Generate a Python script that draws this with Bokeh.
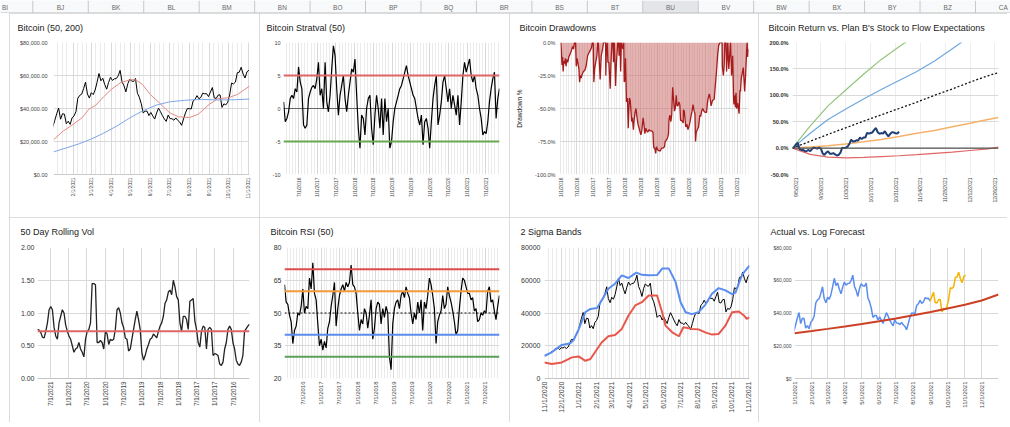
import math
import pandas as pd
from bokeh.plotting import figure
from bokeh.models import (Range1d, FixedTicker, NumeralTickFormatter, DatetimeTickFormatter,
                          Span, Grid, DaysTicker, MonthsTicker, Spacer)
from bokeh.layouts import row, column
from bokeh.embed import file_html
from bokeh.resources import INLINE
from bokeh.core.properties import value

FONT = "Liberation Sans"

# ------------------------------------------------------------------ data
sheet_columns = ["BI", "BJ", "BK", "BL", "BM", "BN", "BO", "BP", "BQ", "BR",
                 "BS", "BT", "BU", "BV", "BW", "BX", "BY", "BZ", "CA"]
selected_column = "BU"

# BTC closing price (thousand USD), every 3 days from 2020-11-01
btc_start = "2020-11-01"
btc_step_days = 3
btc_price_k = [
    13.74, 14.15, 14.82, 15.29, 16.3, 16.72, 17.8, 18.4, 18.7, 17.7,
    18.8, 18.65, 19.2, 18.3, 19.15, 21.3, 23.9, 23.8, 24.7, 27.1, 29.0,
    32.8, 36.8, 40.3, 33.5, 36.8, 36.6, 30.8, 32.3, 30.4, 34.3,
    35.5, 38.0, 46.2, 48.0, 48.7, 52.0, 56.0, 48.8, 46.3,
    49.6, 48.4, 51.2, 55.9, 61.2, 56.8, 58.3, 54.5, 51.7, 55.8, 58.9,
    57.0, 58.0, 58.1, 59.8, 63.1, 56.2, 53.8, 50.1, 55.0, 57.8,
    56.6, 56.4, 58.2, 49.2, 46.8, 42.9, 37.3, 38.4, 38.4, 35.7,
    37.6, 35.5, 33.6, 37.3, 40.2, 38.1, 35.7, 33.7, 32.2, 36.0,
    33.9, 33.8, 32.9, 34.3, 32.8, 31.8, 29.8, 33.6, 37.3, 40.0,
    39.9, 39.7, 44.6, 45.6, 47.8, 45.9, 46.7, 49.3, 48.9, 49.0, 47.2,
    50.0, 52.7, 46.4, 46.1, 48.1, 48.3, 40.7, 42.8, 42.2, 43.8,
    48.2, 55.4, 54.9, 56.0, 61.7, 62.0, 65.0, 60.9, 58.5, 62.2,
    63.2,
]

ma50_k = [("2021-01-01", 21.0), ("2021-01-15", 26.0), ("2021-02-01", 30.5), ("2021-02-15", 34.5),
          ("2021-02-25", 39.5), ("2021-03-08", 42.0), ("2021-03-20", 47.0), ("2021-04-01", 51.5),
          ("2021-04-15", 55.5), ("2021-05-01", 57.5), ("2021-05-10", 57.3), ("2021-05-20", 54.5),
          ("2021-06-01", 48.5), ("2021-06-15", 43.5), ("2021-07-01", 37.5), ("2021-07-15", 35.0),
          ("2021-08-01", 34.5), ("2021-08-15", 36.5), ("2021-09-01", 42.5), ("2021-09-15", 46.0),
          ("2021-10-01", 46.5), ("2021-10-15", 48.5), ("2021-11-03", 53.5)]

ma200_k = [("2021-01-01", 13.7), ("2021-01-20", 16.0), ("2021-02-10", 18.6), ("2021-03-01", 21.5),
           ("2021-03-20", 25.0), ("2021-04-10", 29.4), ("2021-05-01", 34.5), ("2021-05-20", 38.5),
           ("2021-06-10", 42.0), ("2021-07-01", 44.0), ("2021-07-25", 45.0), ("2021-08-20", 45.5),
           ("2021-09-15", 45.2), ("2021-10-10", 45.3), ("2021-11-03", 45.7)]

upper_band_k = [("2020-11-01", 13.9), ("2020-11-14", 16.0), ("2020-12-02", 20.5), ("2020-12-17", 21.5),
                ("2020-12-23", 23.5), ("2021-01-01", 30.0), ("2021-01-13", 40.5), ("2021-01-22", 42.5),
                ("2021-02-03", 43.0), ("2021-02-11", 47.7), ("2021-02-23", 54.8), ("2021-03-07", 57.9),
                ("2021-03-19", 63.0), ("2021-03-31", 61.4), ("2021-04-14", 64.7), ("2021-04-24", 63.3),
                ("2021-05-06", 63.0), ("2021-05-21", 63.2), ("2021-05-30", 67.1), ("2021-06-11", 67.1),
                ("2021-06-23", 59.0), ("2021-07-02", 46.6), ("2021-07-11", 40.5), ("2021-07-22", 39.3),
                ("2021-08-03", 40.5), ("2021-08-15", 45.0), ("2021-08-27", 51.8), ("2021-09-08", 55.2),
                ("2021-09-20", 53.8), ("2021-10-02", 51.5), ("2021-10-08", 52.5), ("2021-10-14", 58.0),
                ("2021-10-20", 63.5), ("2021-10-26", 66.0), ("2021-11-02", 69.0)]

lower_band_k = [("2020-11-01", 9.8), ("2020-11-14", 8.8), ("2020-12-02", 9.8), ("2020-12-20", 12.9),
                ("2021-01-01", 13.5), ("2021-01-13", 10.8), ("2021-01-22", 11.9), ("2021-02-03", 18.0),
                ("2021-02-11", 22.0), ("2021-02-23", 25.8), ("2021-03-07", 26.6), ("2021-03-19", 30.3),
                ("2021-03-31", 38.5), ("2021-04-12", 44.6), ("2021-04-24", 46.6), ("2021-05-06", 50.7),
                ("2021-05-21", 50.7), ("2021-05-30", 40.5), ("2021-06-05", 32.3), ("2021-06-17", 28.2),
                ("2021-06-29", 25.8), ("2021-07-07", 31.3), ("2021-07-22", 30.3), ("2021-08-03", 30.0),
                ("2021-08-15", 28.2), ("2021-08-27", 26.8), ("2021-09-08", 27.2), ("2021-09-20", 32.3),
                ("2021-10-02", 40.5), ("2021-10-14", 40.9), ("2021-10-23", 38.5), ("2021-10-28", 36.4),
                ("2021-11-02", 37.4)]

log_forecast_k = [("2021-01-01", 27.7), ("2021-02-01", 29.0), ("2021-03-01", 30.3), ("2021-04-01", 31.8),
                  ("2021-05-01", 33.3), ("2021-06-01", 35.0), ("2021-07-01", 36.7), ("2021-08-01", 38.6),
                  ("2021-09-01", 40.6), ("2021-10-01", 42.7), ("2021-11-01", 45.0), ("2021-12-01", 47.6),
                  ("2021-12-31", 51.3)]
forecast_split = "2021-09-01"

# Stratval (50), every ~16.2 days from 2016-02-06
stratval_start = "2016-02-06"
stratval_step_days = 16.21
stratval = [
    1, -2, -1.5, -0.5, 1.5, 2, 1.5, 3, 2.5, 6.3,
    4, 3, -2.5, -3, -2.5, 1.5, 2.5, 3.2, 3.5, 3,
    4.5, 7, 2, 3, 0, 7, 1, -0.5, 2, 6,
    9.5, 8, 3, -1, 2, 3.5, 5, 1.5, -0.5, 2,
    4, 6, 5.5, 7.5, 2, -3, -6, -1, -1.5, -4,
    0, 1.5, 2, -3, -5.5, -1, 2, 0, -3, 1.5,
    -4, 1.5, -2, 0, -6, -5, -2, 0, 1, 2,
    3, 3.5, 4.5, 5.5, 6.5, 5, 4, 3, 2, 1.5,
    0, -1.5, -2.5, -1, -5.5, -2, -1.5, -3, -6, -2,
    1.5, 3.5, 5, -2.5, -1, 1, 4, 5, 3, 1,
    3, 0, 2, 0.5, -1, 2, -2.5, 1, 5, 7,
    5.5, 6.5, 7.5, 5, 4, 5, 3, 2, 0, -1.5,
    -4, -3.5, -3.8, -2, 1, 3, 4.5, 5.5, -1.5, 1.5,
    3,
]
stratval_upper = 5
stratval_lower = -5

# Drawdown from running high, percent
drawdown_pct = [
    ("2016-01-01", 0), ("2016-01-08", -6), ("2016-01-15", -17), ("2016-01-22", -11), ("2016-01-28", -22),
    ("2016-02-05", -14), ("2016-02-15", -16), ("2016-02-22", -12), ("2016-03-01", -18), ("2016-03-10", -13),
    ("2016-03-20", -15), ("2016-04-01", -11), ("2016-04-15", -9), ("2016-05-01", -6), ("2016-05-15", -3),
    ("2016-05-25", -5), ("2016-06-05", 0), ("2016-06-17", 0), ("2016-06-25", -18), ("2016-07-05", -12),
    ("2016-07-15", -16), ("2016-07-25", -20), ("2016-08-02", -30), ("2016-08-10", -25), ("2016-08-20", -27),
    ("2016-09-01", -24), ("2016-09-15", -22), ("2016-10-01", -21), ("2016-10-15", -18), ("2016-11-01", -10),
    ("2016-11-15", -8), ("2016-12-01", -6), ("2016-12-15", -4), ("2016-12-25", 0), ("2017-01-04", 0),
    ("2017-01-11", -30), ("2017-01-20", -20), ("2017-02-01", -15), ("2017-02-15", -10), ("2017-02-25", 0),
    ("2017-03-03", 0), ("2017-03-18", -20), ("2017-03-24", -28), ("2017-04-05", -10), ("2017-04-20", -5),
    ("2017-05-01", 0), ("2017-05-25", 0), ("2017-05-27", -25), ("2017-06-01", -10), ("2017-06-12", 0),
    ("2017-06-20", -15), ("2017-07-01", -15), ("2017-07-16", -35), ("2017-07-25", -15), ("2017-08-05", 0),
    ("2017-08-17", 0), ("2017-08-22", -15), ("2017-09-01", 0), ("2017-09-15", -33), ("2017-09-25", -15),
    ("2017-10-10", 0), ("2017-10-20", 0), ("2017-10-25", -10), ("2017-11-05", 0), ("2017-11-12", -22),
    ("2017-11-20", 0), ("2017-12-08", -5), ("2017-12-17", 0), ("2017-12-22", -30), ("2017-12-31", -28),
    ("2018-01-06", -12), ("2018-01-17", -45), ("2018-01-28", -42), ("2018-02-06", -65), ("2018-02-15", -48),
    ("2018-02-20", -42), ("2018-03-01", -44), ("2018-03-10", -53), ("2018-03-18", -60), ("2018-03-25", -57),
    ("2018-04-06", -66), ("2018-04-15", -58), ("2018-04-25", -53), ("2018-05-05", -50), ("2018-05-15", -56),
    ("2018-05-28", -62), ("2018-06-10", -65), ("2018-06-29", -70), ("2018-07-10", -67), ("2018-07-25", -57),
    ("2018-08-05", -63), ("2018-08-14", -69), ("2018-08-25", -65), ("2018-09-05", -67), ("2018-09-15", -68),
    ("2018-10-01", -66), ("2018-10-15", -67), ("2018-11-01", -67), ("2018-11-14", -68), ("2018-11-20", -77),
    ("2018-11-25", -80), ("2018-12-05", -80), ("2018-12-15", -84), ("2018-12-24", -79), ("2019-01-05", -81),
    ("2019-01-20", -82), ("2019-02-07", -82), ("2019-02-20", -80), ("2019-03-10", -80), ("2019-03-25", -79),
    ("2019-04-02", -75), ("2019-04-15", -74), ("2019-04-30", -72), ("2019-05-10", -69), ("2019-05-15", -59),
    ("2019-05-25", -55), ("2019-06-05", -60), ("2019-06-15", -55), ("2019-06-26", -34), ("2019-07-05", -42),
    ("2019-07-16", -52), ("2019-07-25", -50), ("2019-08-06", -40), ("2019-08-15", -48), ("2019-08-25", -48),
    ("2019-09-05", -45), ("2019-09-15", -47), ("2019-09-24", -59), ("2019-10-05", -59), ("2019-10-24", -61),
    ("2019-10-26", -51), ("2019-11-05", -52), ("2019-11-22", -64), ("2019-12-05", -62), ("2019-12-17", -66),
    ("2019-12-31", -63), ("2020-01-10", -60), ("2020-01-20", -56), ("2020-02-01", -52), ("2020-02-13", -47),
    ("2020-02-25", -52), ("2020-03-05", -54), ("2020-03-12", -75), ("2020-03-20", -68), ("2020-04-01", -66),
    ("2020-04-15", -64), ("2020-04-30", -55), ("2020-05-10", -56), ("2020-05-20", -52), ("2020-06-01", -50),
    ("2020-06-15", -52), ("2020-07-01", -53), ("2020-07-15", -53), ("2020-07-28", -44), ("2020-08-10", -40),
    ("2020-08-17", -39), ("2020-09-05", -48), ("2020-09-20", -44), ("2020-10-10", -43), ("2020-10-21", -34),
    ("2020-11-05", -22), ("2020-11-20", -8), ("2020-12-01", -2), ("2020-12-16", 0), ("2020-12-31", 0),
    ("2021-01-08", 0), ("2021-01-11", -18), ("2021-01-22", -25), ("2021-02-01", -17), ("2021-02-08", 0),
    ("2021-02-21", 0), ("2021-02-28", -22), ("2021-03-13", 0), ("2021-03-25", -20), ("2021-04-14", 0),
    ("2021-04-25", -25), ("2021-05-08", -10), ("2021-05-19", -44), ("2021-05-23", -47), ("2021-06-03", -40),
    ("2021-06-08", -49), ("2021-06-15", -38), ("2021-06-22", -50), ("2021-07-05", -46), ("2021-07-20", -54),
    ("2021-07-30", -36), ("2021-08-05", -37), ("2021-08-14", -27), ("2021-08-23", -24), ("2021-09-06", -19),
    ("2021-09-21", -37), ("2021-10-01", -26), ("2021-10-15", -5), ("2021-10-20", 0), ("2021-10-27", -11),
    ("2021-11-03", -5),
]

# Return since 2021-09-03 vs stock-to-flow paths (percent)
return_start = "2021-09-03"
btc_return_pct = [
    0, 2, 7, 10, -2, -3.5, -3, -6, -5.5, -3.5, -6, -1.5, 0.8, 0, -1, 1, -1, -10, -13, -8.5,
    -6, -10.5, -10.7, -9.6, -11.7, -14, -13, -8.4,
    0.8, 0, 0.8, 2.7, 7.7, 16, 12.5, 12.8, 14.8, 14.4, 20, 17, 20, 20, 29, 27.4, 28.7, 29.7,
    34.5, 38, 30, 27, 28.5, 27.4, 32, 26.5, 22.4, 26.8, 30.3, 29.5, 28.2,
    27.6, 31,
]
s2f_days = [0, 10, 20, 30, 40, 50, 60, 70, 80, 90, 100, 110, 116]
s2f_green = [0, 42, 80, 110, 140, 168, 192, 215, 238, 260, 282, 304, 316]
s2f_blue = [0, 28, 54, 74, 93, 111, 128, 145, 165, 188, 212, 236, 250]
s2f_median = [0, 13, 26, 38.5, 51, 63, 75, 87, 100, 112, 125, 137, 143]
s2f_orange = [0, 2, 4.5, 7.8, 12, 16.5, 22, 28, 33.5, 40.5, 47, 54, 58]
s2f_red = [0, -12, -17, -18.4, -17.5, -16, -14.5, -12.5, -10, -7.5, -4.5, -1.5, 2]

# 50 day rolling vol, newest first, every 16.5 days back from 2021-11-04
vol_end = "2021-11-04"
vol_step_days = 16.5
rolling_vol = [
    0.75, 0.74, 0.70, 0.63, 0.62, 0.72, 0.85, 1.05, 1.10, 1.05,
    0.78, 0.65, 0.60, 0.85, 0.95, 1.05, 1.00, 0.82, 0.72, 0.65,
    0.60, 0.50, 0.40, 0.45, 0.47, 0.55, 0.45, 0.40, 0.33, 0.60,
    0.72, 0.75, 0.85, 1.45, 1.45, 1.43, 0.55, 0.55, 0.58, 0.55,
    0.45, 0.72, 0.68, 0.52, 0.60, 0.58, 0.60, 0.75, 1.05, 1.08,
    1.00, 0.85, 0.78, 0.62, 0.60, 0.42, 0.45, 0.60, 0.75, 0.90,
    1.03, 0.90, 0.75, 0.40, 0.28, 0.35, 0.45, 0.52, 0.60, 0.62,
    0.68, 0.65, 0.62, 0.72, 0.80, 0.85, 0.95, 1.15, 1.20, 1.32,
    1.35, 1.28, 1.50, 1.40, 1.25, 1.20, 0.85, 0.72, 0.95, 0.95,
    0.90, 0.75, 1.18, 1.20, 1.22, 0.88, 0.75, 0.55, 0.48, 0.72,
    0.80, 0.78, 0.45, 0.75, 0.78, 0.75, 0.35, 0.38, 0.37, 0.35,
    0.22, 0.20, 0.25, 0.45, 0.55, 0.75, 0.80, 0.75, 0.55, 0.45,
    0.28, 0.22, 0.20, 0.25, 0.35, 0.72, 0.76, 0.80, 0.83,
]
vol_average = 0.72

# RSI (50), every ~16.67 days from 2016-01-01
rsi_start = "2016-01-01"
rsi_step_days = 16.67
rsi = [
    63, 55, 54, 49, 46, 36, 42, 44, 50, 49,
    53, 61, 50, 53, 52, 66, 61, 73, 59, 56,
    45, 35, 38, 33, 37, 34, 43, 46, 53, 58,
    64, 44, 52, 58, 61, 63, 60, 64, 62, 64,
    72, 63, 62, 59, 50, 42, 47, 45, 52, 50,
    43, 49, 56, 38, 43, 52, 55, 54, 45, 52,
    48, 53, 50, 30, 24, 45, 52, 55, 56, 52,
    58, 60, 57, 62, 59, 57, 50, 45, 50, 47,
    55, 50, 56, 42, 55, 52, 58, 66, 63, 58,
    52, 36, 46, 49, 51, 58, 52, 54, 62, 58,
    55, 51, 46, 40, 42, 52, 60, 66, 65, 62,
    59, 59, 56, 57, 51, 52, 46, 47, 50, 49,
    51, 50, 60, 62, 55, 56, 51, 47, 53, 58,
]
rsi_levels = [70, 60, 50, 40, 30]

# tick labels
ticks_2021_m = ["2021-02-01", "2021-03-01", "2021-04-01", "2021-05-01", "2021-06-01",
                "2021-07-01", "2021-08-01", "2021-09-01", "2021-10-01", "2021-11-01"]
ticks_half_years = ["2016-07-01", "2017-01-01", "2017-07-01", "2018-01-01", "2018-07-01", "2019-01-01",
                    "2019-07-01", "2020-01-01", "2020-07-01", "2021-01-01", "2021-07-01"]
ticks_dd = ["2016-01-01"] + ticks_half_years
ticks_s2f = ["2021-09-05", "2021-09-19", "2021-10-03", "2021-10-17", "2021-10-31",
             "2021-11-14", "2021-11-28", "2021-12-12", "2021-12-26"]
ticks_bands = ["2020-11-01", "2020-12-01", "2021-01-01", "2021-02-01", "2021-03-01", "2021-04-01",
               "2021-05-01", "2021-06-01", "2021-07-01", "2021-08-01", "2021-09-01", "2021-10-01",
               "2021-11-01"]
ticks_forecast = ["2021-01-01", "2021-02-01", "2021-03-01", "2021-04-01", "2021-05-01", "2021-06-01",
                  "2021-07-01", "2021-08-01", "2021-09-01", "2021-10-01", "2021-11-01", "2021-12-01"]


# ------------------------------------------------------------------ helpers
def ms(d):
    return float(pd.Timestamp(d).value // 1_000_000)


def ms_list(ds):
    return [ms(d) for d in ds]


def regular_dates(start, step_days, n, backwards=False):
    t0 = pd.Timestamp(start)
    sgn = -1 if backwards else 1
    return [ms(t0 + pd.Timedelta(days=sgn * step_days * i)) for i in range(n)]


def unzip(pairs, scale=1.0):
    return [ms(d) for d, _ in pairs], [v * scale for _, v in pairs]


DATE_FMT = "%-m/%-d/%Y"


def make_chart(width, height, xr, yr, borders, title, title_left, x_ticks, y_ticks, y_fmt,
               x_lab_size, y_lab_size, y_lab_color="#444444", minor=None, y_standoff=4,
               x_standoff=3, y_bold=False):
    ml, mr, mt, mb = borders
    p = figure(width=width, height=height, x_axis_type="datetime",
               x_range=Range1d(*xr), y_range=Range1d(*yr),
               output_backend="svg", toolbar_location=None,
               min_border_left=ml, min_border_right=mr, min_border_top=mt, min_border_bottom=mb)
    p.background_fill_color = "white"
    p.border_fill_color = "white"
    p.outline_line_color = None
    p.styles = {"outline": "1px solid #d0d0d0", "outline-offset": "-1px"}

    t = p.title
    t.text = title
    t.text_font = FONT
    t.text_font_size = "9px"
    t.text_font_style = "normal"
    t.text_color = "#222222"
    t.align = "left"
    t.offset = title_left - ml
    t.vertical_align = "top"
    t.standoff = mt - 13

    xa = p.xaxis[0]
    xa.ticker = FixedTicker(ticks=ms_list(x_ticks))
    xa.formatter = DatetimeTickFormatter(days=DATE_FMT, months=DATE_FMT, years=DATE_FMT,
                                         hours=DATE_FMT, minutes=DATE_FMT)
    xa.major_label_orientation = math.pi / 2
    xa.major_label_text_font = FONT
    xa.major_label_text_font_size = x_lab_size
    xa.major_label_text_color = "#444444"
    xa.major_label_standoff = x_standoff

    ya = p.yaxis[0]
    ya.ticker = FixedTicker(ticks=y_ticks)
    ya.formatter = y_fmt
    ya.major_label_text_font = FONT
    ya.major_label_text_font_size = y_lab_size
    ya.major_label_text_color = y_lab_color
    ya.major_label_standoff = y_standoff
    if y_bold:
        ya.major_label_text_font_style = "bold"

    for ax in (xa, ya):
        ax.axis_line_color = None
        ax.major_tick_line_color = None
        ax.minor_tick_line_color = None
        ax.major_tick_in = 0
        ax.major_tick_out = 0

    p.xgrid.grid_line_color = "#d9d9d9"
    p.ygrid.grid_line_color = "#d9d9d9"
    if minor is not None:
        g = Grid(dimension=0, ticker=minor, grid_line_color="#ebebeb", grid_line_width=1)
        p.center = [g] + list(p.center)
    return p


def baseline(p, loc, color="#9a9a9a", width=1):
    p.add_layout(Span(location=loc, dimension="width", line_color=color, line_width=width,
                      level="underlay"))


# ------------------------------------------------------------------ series in plot units
btc_x = regular_dates(btc_start, btc_step_days, len(btc_price_k))
btc_y = [v * 1000 for v in btc_price_k]
ma50_x, ma50_y = unzip(ma50_k, 1000)
ma200_x, ma200_y = unzip(ma200_k, 1000)
up_x, up_y = unzip(upper_band_k, 1000)
lo_x, lo_y = unzip(lower_band_k, 1000)
fc_x, fc_y = unzip(log_forecast_k, 1000)
dd_x, dd_y = unzip(drawdown_pct, 0.01)
sv_x = regular_dates(stratval_start, stratval_step_days, len(stratval))
vol_x = regular_dates(vol_end, vol_step_days, len(rolling_vol), backwards=True)
rsi_x = regular_dates(rsi_start, rsi_step_days, len(rsi))
ret_x = regular_dates(return_start, 1, len(btc_return_pct))
ret_y = [v / 100 for v in btc_return_pct]
s2f_x = [ms(pd.Timestamp(return_start) + pd.Timedelta(days=d)) for d in s2f_days]

# ------------------------------------------------------------------ chart 1
c1 = make_chart(250, 204, (ms("2021-01-01"), ms("2021-11-03")), (0, 80000), (44, 10, 29, 39),
                "Bitcoin (50, 200)", 8, ticks_2021_m, [0, 20000, 40000, 60000, 80000],
                NumeralTickFormatter(format="$0,0.00"), "4.8px", "5.5px",
                minor=DaysTicker(days=[1, 8, 15, 22, 29]), y_standoff=6)
baseline(c1, 0)
c1.line(btc_x, btc_y, line_color="black", line_width=1)
c1.line(ma50_x, ma50_y, line_color="#e48a84", line_width=1)
c1.line(ma200_x, ma200_y, line_color="#7ea6e6", line_width=1)

# ------------------------------------------------------------------ chart 2
c2 = make_chart(250, 204, (ms("2016-02-05"), ms("2021-11-14")), (-10, 10), (24, 10, 29, 35),
                "Bitcoin Stratval (50)", 7, ticks_half_years, [-10, -5, 0, 5, 10],
                NumeralTickFormatter(format="0"), "5px", "5.5px",
                minor=MonthsTicker(months=list(range(1, 13))), y_standoff=3)
baseline(c2, 0, "#666666", 1)
c2.line(sv_x, stratval, line_color="black", line_width=1.2)
c2.add_layout(Span(location=stratval_upper, dimension="width", line_color="#e06666", line_width=2))
c2.add_layout(Span(location=stratval_lower, dimension="width", line_color="#6aa84f", line_width=2))

# ------------------------------------------------------------------ chart 3
c3 = make_chart(249, 204, (ms("2015-12-29"), ms("2021-11-04")), (-1, 0), (51, 10, 29, 36),
                "Bitcoin Drawdowns", 10, ticks_dd, [-1, -0.75, -0.5, -0.25, 0],
                NumeralTickFormatter(format="0.0%"), "5px", "5.5px",
                minor=MonthsTicker(months=list(range(1, 13))), y_standoff=5)
c3.yaxis.axis_label = "Drawdown %"
c3.yaxis.axis_label_text_font = FONT
c3.yaxis.axis_label_text_font_size = "6.5px"
c3.yaxis.axis_label_text_font_style = "normal"
c3.yaxis.axis_label_text_color = "#222222"
c3.yaxis.axis_label_standoff = 9
c3.varea(x=dd_x, y1=[0] * len(dd_x), y2=dd_y, fill_color="#cc6666", fill_alpha=0.5)
c3.line(dd_x, dd_y, line_color="#a61c1c", line_width=1.3)

# ------------------------------------------------------------------ chart 4
c4 = make_chart(249, 204, (ms("2021-09-03"), ms("2021-12-28")), (-0.5, 2.0), (34, 9, 29, 43),
                "Bitcoin Return vs. Plan B's Stock to Flow Expectations", 10, ticks_s2f,
                [-0.5, 0, 0.5, 1.0, 1.5, 2.0], NumeralTickFormatter(format="0.0%"),
                "5px", "5.6px", y_lab_color="#333333", y_standoff=4, y_bold=True)
c4.xgrid.grid_line_color = "#eeeeee"
c4.line(s2f_x, [v / 100 for v in s2f_green], line_color="#93c47d", line_width=1.2)
c4.line(s2f_x, [v / 100 for v in s2f_blue], line_color="#6fa8dc", line_width=1.2)
c4.line(s2f_x, [v / 100 for v in s2f_median], line_color="#111111", line_width=1.3, line_dash="2 2")
c4.line(s2f_x, [v / 100 for v in s2f_orange], line_color="#f6b26b", line_width=1.5)
c4.line(s2f_x, [v / 100 for v in s2f_red], line_color="#e06666", line_width=1.2)
c4.add_layout(Span(location=0, dimension="width", line_color="#555555", line_width=1.2))
c4.line(ret_x, ret_y, line_color="#1f3f76", line_width=2)

# ------------------------------------------------------------------ chart 5
c5 = make_chart(250, 205, (ms(vol_end), vol_x[-1]), (0, 2), (28, 10, 30, 41),
                "50 Day Rolling Vol", 11, ticks_half_years, [0, 0.5, 1.0, 1.5, 2.0],
                NumeralTickFormatter(format="0.00"), "6.3px", "7px", y_lab_color="#333333",
                y_standoff=3)
baseline(c5, 0, "#888888", 1)
c5.line(vol_x, rolling_vol, line_color="#222222", line_width=1.3)
c5.add_layout(Span(location=vol_average, dimension="width", line_color="#e06666", line_width=2))

# ------------------------------------------------------------------ chart 6
c6 = make_chart(250, 205, (ms("2016-01-01"), ms("2021-11-22")), (20, 80), (25, 10, 30, 41),
                "Bitcoin RSI (50)", 11, ticks_half_years, [20, 35, 50, 65, 80],
                NumeralTickFormatter(format="0"), "6px", "7px", y_lab_color="#333333",
                minor=MonthsTicker(months=list(range(1, 13))), y_standoff=3)
c6.line(rsi_x, rsi, line_color="black", line_width=1.2)
rsi_colors = ["#dd4b4b", "#f39a3c", "#111111", "#5b8def", "#5aa05a"]
for lvl, col in zip(rsi_levels, rsi_colors):
    if col == "#111111":
        c6.add_layout(Span(location=lvl, dimension="width", line_color=col, line_width=1.1,
                           line_dash="2 2"))
    else:
        c6.add_layout(Span(location=lvl, dimension="width", line_color=col, line_width=2))

# ------------------------------------------------------------------ chart 7
c7 = make_chart(249, 205, (ms("2020-11-01"), ms("2021-11-02")), (0, 80000), (35, 9, 30, 44),
                "2 Sigma Bands", 11, ticks_bands, [0, 20000, 40000, 60000, 80000],
                NumeralTickFormatter(format="0"), "7px", "7px", y_lab_color="#333333",
                minor=DaysTicker(days=[1, 8, 15, 22, 29]), y_standoff=4)
baseline(c7, 0, "#888888", 1)
c7.line(btc_x, btc_y, line_color="black", line_width=1)
c7.line(up_x, up_y, line_color="#5b8def", line_width=2)
c7.line(lo_x, lo_y, line_color="#e8574b", line_width=2)

# ------------------------------------------------------------------ chart 8
split_ms = ms(forecast_split)
blue_idx = [i for i, x in enumerate(btc_x) if x <= split_ms]
yell_idx = [blue_idx[-1]] + [i for i, x in enumerate(btc_x) if x > split_ms]
c8 = make_chart(249, 205, (ms("2021-01-01"), ms("2021-12-31")), (0, 80000), (36, 9, 30, 40),
                "Actual vs. Log Forecast", 12, ticks_forecast, [0, 20000, 40000, 60000, 80000],
                NumeralTickFormatter(format="$0,0"), "6px", "5px", y_standoff=3)
baseline(c8, 0, "#9a9a9a", 1)
c8.line([btc_x[i] for i in blue_idx], [btc_y[i] for i in blue_idx], line_color="#5b8def", line_width=1.5)
c8.line([btc_x[i] for i in yell_idx], [btc_y[i] for i in yell_idx], line_color="#f4b400", line_width=1.5)
c8.line(fc_x, fc_y, line_color="#cc4125", line_width=2)

# ------------------------------------------------------------------ sheet header
W = 1010
H_HDR = 13
hdr = figure(width=W, height=H_HDR, x_range=Range1d(0, W), y_range=Range1d(0, H_HDR),
             output_backend="svg", toolbar_location=None, x_axis_location=None,
             y_axis_location=None, min_border=0)
hdr.grid.visible = False
hdr.outline_line_color = None
hdr.background_fill_color = "#f8f9fa"
hdr.border_fill_color = "#f8f9fa"
col_w = 55.45
first_center = 4.6
n_cols = len(sheet_columns)
centers = [first_center + i * col_w for i in range(n_cols)]
sel = sheet_columns.index(selected_column)
hdr.quad(left=[centers[sel] - col_w / 2], right=[centers[sel] + col_w / 2], bottom=[0], top=[H_HDR],
         fill_color="#e3e5e8", line_color=None)
bounds = [c + col_w / 2 for c in centers[:-1]]
hdr.segment(x0=bounds, y0=[0] * len(bounds), x1=bounds, y1=[H_HDR] * len(bounds),
            line_color="#c8c8c8", line_width=1)
hdr.segment(x0=[0], y0=[0.5], x1=[W], y1=[0.5], line_color="#bdbdbd", line_width=1)
hdr.text(x=centers, y=[6.5] * n_cols, text=sheet_columns, text_font=value(FONT),
         text_font_size="6.5px", text_align="center", text_baseline="middle", text_color="#6b6b6b")

layout = column(
    hdr,
    row(Spacer(width=9, height=204), c1, c2, c3, c4),
    row(Spacer(width=9, height=205), c5, c6, c7, c8),
)

open("out.html", "w").write(file_html(layout, INLINE))
